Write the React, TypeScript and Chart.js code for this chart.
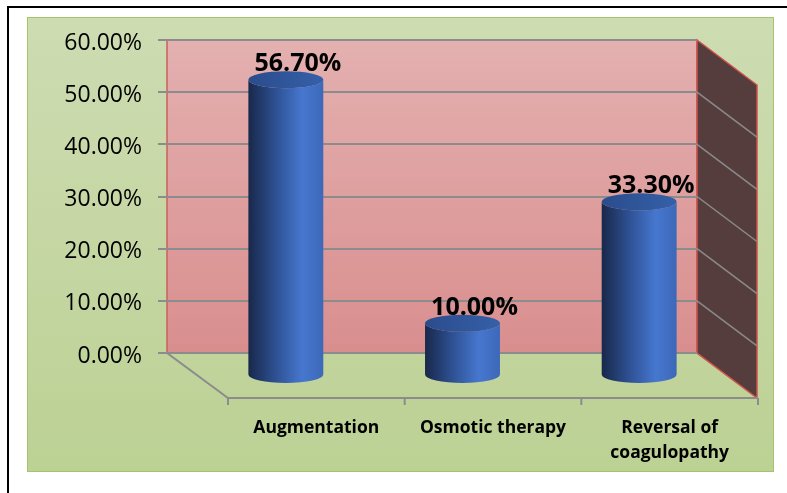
import React, { useEffect, useRef } from "react";
import { Chart, registerables } from "chart.js";

Chart.register(...registerables);

const categories: (string | string[])[] = ["Augmentation", "Osmotic therapy", ["Reversal of", "coagulopathy"]];
const values: number[] = [56.7, 10.0, 33.3];
const yTicks: number[] = [0, 10, 20, 30, 40, 50, 60];

const DX = 61;
const DY = 45;
const FONT = "'Open Sans', 'Liberation Sans', sans-serif";

const scenePlugin = {
  id: "scene3d",
  beforeDraw(chart: any) {
    const ctx = chart.ctx;
    ctx.save();
    ctx.fillStyle = "#ffffff";
    ctx.fillRect(0, 0, chart.width, chart.height);
    // black frame
    ctx.fillStyle = "#000000";
    ctx.fillRect(7, 6, 2, chart.height - 6);
    ctx.fillRect(7, 6, chart.width - 7, 2);
    // green panel
    const g = ctx.createLinearGradient(0, 17, 0, 472);
    g.addColorStop(0, "#cedcb2");
    g.addColorStop(1, "#bcd194");
    ctx.fillStyle = g;
    ctx.fillRect(27, 17, 747, 455);
    ctx.strokeStyle = "#a6c46e";
    ctx.lineWidth = 1;
    ctx.strokeRect(27.5, 17.5, 746, 454);

    const a = chart.chartArea;
    // back wall
    const pg = ctx.createLinearGradient(0, a.top, 0, a.bottom);
    pg.addColorStop(0, "#e4b0b0");
    pg.addColorStop(1, "#d98e8e");
    ctx.fillStyle = pg;
    ctx.fillRect(a.left, a.top, a.right - a.left, a.bottom - a.top);
    ctx.strokeStyle = "#c9605c";
    ctx.lineWidth = 1.5;
    ctx.strokeRect(a.left, a.top, a.right - a.left, a.bottom - a.top);

    // side wall
    ctx.beginPath();
    ctx.moveTo(a.right, a.top);
    ctx.lineTo(a.right + DX - 1, a.top + DY);
    ctx.lineTo(a.right + DX - 1, a.bottom + DY);
    ctx.lineTo(a.right, a.bottom);
    ctx.closePath();
    ctx.fillStyle = "#553d3d";
    ctx.fill();
    ctx.strokeStyle = "#d0524e";
    ctx.lineWidth = 1.5;
    ctx.stroke();

    // side wall grid
    const ys = chart.scales.y;
    ctx.strokeStyle = "#8a8a8a";
    ctx.lineWidth = 1.5;
    yTicks.forEach((v) => {
      if (v === 0 || v === 60) return;
      const py = ys.getPixelForValue(v);
      ctx.beginPath();
      ctx.moveTo(a.right, py);
      ctx.lineTo(a.right + DX - 1, py + DY);
      ctx.stroke();
    });

    // floor edges
    ctx.strokeStyle = "#8c8c8c";
    ctx.lineWidth = 2;
    ctx.beginPath();
    ctx.moveTo(a.left - 9, a.bottom);
    ctx.lineTo(a.left, a.bottom);
    ctx.lineTo(a.left + DX, a.bottom + DY);
    ctx.lineTo(a.right + DX, a.bottom + DY);
    ctx.stroke();
    const step = (a.right - a.left) / categories.length;
    for (let i = 0; i <= categories.length; i++) {
      const px = a.left + DX + i * step;
      ctx.beginPath();
      ctx.moveTo(px, a.bottom + DY);
      ctx.lineTo(px, a.bottom + DY + 7);
      ctx.stroke();
    }
    ctx.restore();
  },
  afterDatasetsDraw(chart: any) {
    const ctx = chart.ctx;
    const a = chart.chartArea;
    const meta = chart.getDatasetMeta(0);
    const xs = chart.scales.x;
    ctx.save();
    meta.data.forEach((el: any, i: number) => {
      const cx = el.x + DX / 2;
      const top = el.y + DY / 2;
      const base = el.base + DY / 2;
      const rx = el.width / 2;
      const ry = 8.5;
      const gr = ctx.createLinearGradient(cx - rx, 0, cx + rx, 0);
      gr.addColorStop(0, "#18284a");
      gr.addColorStop(0.35, "#2d4f90");
      gr.addColorStop(0.72, "#4677cf");
      gr.addColorStop(1, "#3d68b8");
      ctx.beginPath();
      ctx.moveTo(cx - rx, top);
      ctx.lineTo(cx - rx, base);
      ctx.ellipse(cx, base, rx, ry, 0, Math.PI, 0, true);
      ctx.lineTo(cx + rx, top);
      ctx.ellipse(cx, top, rx, ry, 0, 0, Math.PI, false);
      ctx.closePath();
      ctx.fillStyle = gr;
      ctx.fill();
      const tg = ctx.createLinearGradient(cx - rx, 0, cx + rx, 0);
      tg.addColorStop(0, "#2a4c8c");
      tg.addColorStop(1, "#3560a8");
      ctx.beginPath();
      ctx.ellipse(cx, top, rx, ry, 0, 0, Math.PI * 2);
      ctx.fillStyle = tg;
      ctx.fill();

      ctx.fillStyle = "#000000";
      ctx.font = `bold 25px ${FONT}`;
      ctx.textAlign = "center";
      ctx.textBaseline = "alphabetic";
      ctx.fillText(values[i].toFixed(2) + "%", cx + 12, top - ry);
    });

    // category labels on front plane
    ctx.font = `bold 17.5px ${FONT}`;
    ctx.fillStyle = "#000000";
    ctx.textAlign = "center";
    categories.forEach((c, i) => {
      const px = xs.getPixelForValue(i) + DX;
      const lines = Array.isArray(c) ? c : [c];
      lines.forEach((ln, j) => {
        ctx.fillText(ln, px, a.bottom + DY + 35 + j * 25);
      });
    });
    ctx.restore();
  },
};

export default function App() {
  const ref = useRef<HTMLCanvasElement>(null);
  useEffect(() => {
    if (!ref.current) return;
    const chart = new Chart(ref.current, {
      type: "bar",
      data: {
        labels: categories as any,
        datasets: [
          {
            data: values,
            backgroundColor: "rgba(0,0,0,0)",
            borderWidth: 0,
            barPercentage: 0.424,
            categoryPercentage: 1,
          },
        ],
      },
      options: {
        responsive: false,
        animation: false,
        devicePixelRatio: 1,
        layout: { padding: { left: 40, top: 40, right: 90, bottom: 140 } },
        plugins: { legend: { display: false }, tooltip: { enabled: false } },
        scales: {
          x: { display: false },
          y: {
            min: 0,
            max: 60,
            afterFit: (s: any) => {
              s.width = 127;
            },
            afterBuildTicks: (s: any) => {
              s.ticks = yTicks.map((v) => ({ value: v }));
            },
            ticks: {
              padding: 16,
              labelOffset: 3,
              color: "#000000",
              font: { family: FONT, size: 23 },
              callback: (v: any) => Number(v).toFixed(2) + "%",
            },
            grid: {
              color: "#8c8c8c",
              lineWidth: 2,
              tickLength: 9,
              drawTicks: true,
            },
            border: { display: false },
          },
        },
      },
      plugins: [scenePlugin],
    });
    return () => chart.destroy();
  }, []);
  return (
    <div style={{ position: "fixed", left: 0, top: 0, width: 787, height: 493 }}>
      <canvas ref={ref} width={787} height={493} />
    </div>
  );
}
